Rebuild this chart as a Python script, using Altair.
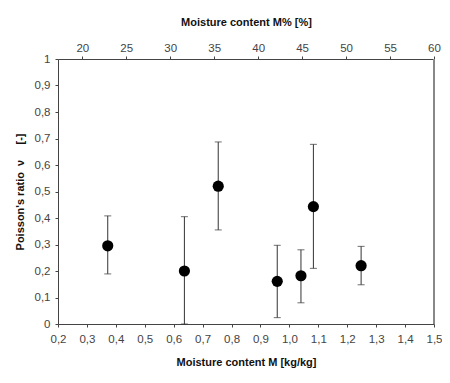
import altair as alt
import pandas as pd

moisture = [0.372, 0.637, 0.754, 0.958, 1.040, 1.083, 1.248]
poisson = [0.295, 0.200, 0.520, 0.161, 0.182, 0.443, 0.220]
err_high = [0.408, 0.405, 0.687, 0.297, 0.280, 0.678, 0.293]
err_low = [0.189, 0.000, 0.355, 0.024, 0.080, 0.210, 0.148]
top_ticks = [20, 25, 30, 35, 40, 45, 50, 55, 60]

df = pd.DataFrame({"M": moisture, "nu": poisson, "hi": err_high, "lo": err_low})
top_df = pd.DataFrame({"Mp": top_ticks})

FONT = "Liberation Sans"
xscale = alt.Scale(domain=[0.2, 1.5], nice=False, zero=False)
yscale = alt.Scale(domain=[0, 1], nice=False)

common = dict(
    grid=False, domainColor="#444", tickColor="#444", tickSize=3,
    labelColor="#444", labelFontSize=11.5, labelFont=FONT,
    labelOverlap=False, labelFlush=False,
    titleFont=FONT, titleFontSize=11, titleFontWeight="bold", titleColor="#111",
)

NB = "\u00a0"
xaxis = alt.Axis(
    title="Moisture content M [kg/kg]",
    values=[round(0.2 + 0.1 * i, 1) for i in range(14)],
    labelExpr="replace(format(datum.value, '.1f'), '.', ',')",
    labelPadding=6, titlePadding=12, **common,
)
yaxis = alt.Axis(
    title="Poisson's ratio" + NB * 2 + "ν" + NB * 5 + "[-]",
    values=[round(0.1 * i, 1) for i in range(11)],
    labelExpr="(datum.value == 0 || datum.value == 1) ? format(datum.value, 'd') : replace(format(datum.value, '.1f'), '.', ',')",
    labelPadding=5, titlePadding=9, **common,
)

def X():
    return alt.X("M:Q", scale=xscale, axis=xaxis)

def Y(field):
    return alt.Y(field, scale=yscale, axis=yaxis)

base = alt.Chart(df)
bars = base.mark_rule(color="#333", strokeWidth=1).encode(
    x=X(), y=Y("lo:Q"), y2="hi:Q",
)
cap_hi = base.mark_tick(color="#333", thickness=1, size=7, orient="horizontal").encode(
    x=X(), y=Y("hi:Q")
)
cap_lo = base.mark_tick(color="#333", thickness=1, size=7, orient="horizontal").encode(
    x=X(), y=Y("lo:Q")
)
pts = base.mark_circle(color="black", size=125, opacity=1).encode(
    x=X(), y=Y("nu:Q")
)
right_border = alt.Chart(df).mark_rule(color="#888", strokeWidth=1.5).encode(
    x=alt.value(376), y=alt.value(0), y2=alt.value(265)
)

main = alt.layer(bars, cap_hi, cap_lo, pts, right_border)

top = alt.Chart(top_df).mark_point(opacity=0).encode(
    x=alt.X(
        "Mp:Q",
        scale=alt.Scale(domain=[17.24, 60], nice=False, zero=False),
        axis=alt.Axis(
            orient="top", title="Moisture content M% [%]", values=top_ticks,
            labelPadding=3, titlePadding=15, **common,
        ),
    ),
    y=alt.Y("Mp:Q", scale=alt.Scale(domain=[0, 100]), axis=None),
)

chart = alt.layer(main, top).resolve_scale(x="independent", y="independent").properties(
    width=376, height=265,
    autosize=alt.AutoSizeParams(type="none"),
    padding={"left": 50, "top": 51, "right": 8, "bottom": 50},
).configure_view(stroke=None).configure(background="white")

chart.save("out.html", embed_options={"renderer": "svg", "actions": False})
